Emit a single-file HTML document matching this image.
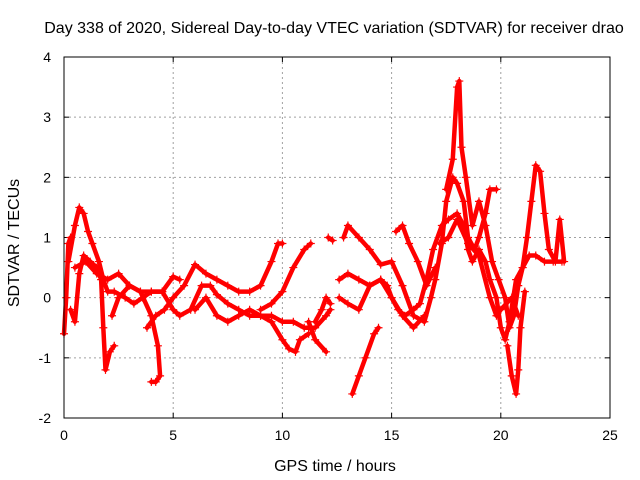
<!DOCTYPE html>
<html><head><meta charset="utf-8"><style>
body{margin:0;background:#fff;}
svg{display:block;font-family:"Liberation Sans",sans-serif;}
</style></head><body>
<svg id="chart" width="640" height="480">
<text x="334" y="33" font-size="16" text-anchor="middle">Day 338 of 2020, Sidereal Day-to-day VTEC variation (SDTVAR) for receiver drao</text>
<text x="335" y="471" font-size="16" text-anchor="middle">GPS time / hours</text>
<text x="0" y="0" font-size="16" text-anchor="middle" transform="translate(19,243) rotate(-90)">SDTVAR / TECUs</text>
<g id="grid"></g>
<g id="ticks"></g>
<g id="series"></g>
<rect x="64" y="57" width="546" height="361" fill="none" stroke="#000" stroke-width="1"/>
</svg>
<script>
const xTicks=[0,5,10,15,20,25];
const yTicks=[-2,-1,0,1,2,3,4];
const arc1=[[0,-0.6],[0.1,0],[0.2,0.9],[0.3,1.0]];
const arc2=[[0.2,0.6],[0.5,1.2],[0.7,1.5],[0.9,1.4],[1.1,1.1],[1.3,0.9],[1.6,0.6],[1.8,0.3],[2.0,0.1],[2.3,0.1],[2.8,0.0],[3.2,-0.1],[3.6,0.0],[4,0.1],[4.5,0.1],[5,0.35],[5.3,0.3]];
const arc3=[[0.3,-0.2],[0.5,-0.4],[0.7,0.4],[0.9,0.7],[1.2,0.6],[1.5,0.5],[1.7,0.3],[1.8,-0.5],[1.9,-1.2],[2.1,-0.9],[2.3,-0.8]];
const arc4=[[0.5,0.5],[1,0.6],[1.5,0.4],[2,0.3],[2.5,0.4],[3,0.2],[3.5,0.1],[4,-0.3],[4.3,-0.8],[4.4,-1.3],[4.2,-1.4],[4.0,-1.4]];
const arc5=[[2.2,-0.3],[2.5,0.0],[3,0.2],[3.5,0.1],[4,0.1],[4.5,0.1],[5,-0.2],[5.3,-0.3],[5.8,-0.2],[6.3,0.2],[6.7,0.2],[7,0.05],[7.5,-0.1],[8,-0.2],[8.5,-0.3],[9,-0.3],[9.5,-0.4],[10,-0.7],[10.3,-0.85],[10.6,-0.9],[10.8,-0.7],[11.2,-0.6]];
const arc6=[[3.8,-0.5],[4.2,-0.3],[4.6,-0.2],[5,0.0],[5.5,0.2],[6,0.55],[6.5,0.4],[7,0.3],[7.5,0.2],[8,0.1],[8.5,0.1],[9,0.2],[9.5,0.6],[9.8,0.9],[10,0.9]];
const arc7=[[6,-0.2],[6.5,0.0],[7,-0.3],[7.5,-0.4],[8,-0.3],[8.5,-0.2],[9,-0.3],[9.5,-0.3],[10,-0.4],[10.5,-0.4],[11,-0.5],[11.5,-0.5],[12,-0.3],[12.2,-0.2]];
const arc8=[[9,-0.2],[9.5,-0.1],[10,0.1],[10.5,0.5],[11,0.8],[11.3,0.9]];
const arc9=[[11.2,-0.4],[11.5,-0.7],[12,-0.9]];
const arc9b=[[11.5,-0.4],[11.8,-0.2],[12,0.0],[12.2,-0.1]];
const arc10=[[12.1,1.0],[12.3,0.95]];
const arc11=[[12.8,1.0],[13.0,1.2],[13.5,1.0],[14,0.8],[14.5,0.55],[15,0.6],[15.5,0.2],[16,-0.3],[16.5,-0.4],[16.8,0.0],[17,0.3],[17.3,0.9],[17.5,1.6],[17.8,2.0],[18,1.9],[18.3,1.6],[18.5,1.0],[18.8,0.8],[19,1.0],[19.3,1.4],[19.5,1.8],[19.8,1.8]];
const arc12=[[12.6,0.3],[13,0.4],[13.5,0.3],[14,0.2],[14.5,0.3],[14.8,0.2],[15,0.0],[15.3,-0.2],[15.6,-0.3],[16,-0.2],[16.3,-0.1],[16.6,0.3],[16.9,0.8],[17.3,1.2],[17.6,1.3],[18,1.4],[18.3,1.2],[18.5,0.8],[18.7,0.6],[19,0.8],[19.3,0.6],[19.5,0.3],[19.8,0.0],[20,-0.5],[20.2,-0.7],[20.4,-0.4],[20.7,0.3],[21,0.5],[21.3,0.7],[21.6,0.7],[22,0.6],[22.4,0.6],[22.8,0.6]];
const arc13=[[12.6,0.0],[13,-0.1],[13.5,-0.2],[14,0.2],[14.5,0.3],[15,0.0],[15.5,-0.3],[16,-0.5],[16.5,-0.3]];
const arc14=[[13.2,-1.6],[13.5,-1.3],[13.8,-1.0],[14.2,-0.6],[14.4,-0.5]];
const arc15=[[15.2,1.1],[15.5,1.2],[15.8,0.9],[16.2,0.6],[16.6,0.2],[17,0.5]];
const arc16=[[17.5,1.8],[17.8,2.3],[18,3.5],[18.1,3.6],[18.2,2.5],[18.4,2.0],[18.7,1.2],[19,1.6],[19.3,1.2],[19.6,0.6],[19.9,0.3],[20.2,0.0],[20.4,-0.5],[20.6,-0.3],[20.8,0.2],[21,0.5],[21.2,1.0],[21.4,1.6],[21.6,2.2],[21.8,2.1],[22,1.4],[22.2,0.8],[22.5,0.6],[22.7,1.3],[22.9,0.6]];
const arc17=[[20.3,-0.8],[20.5,-1.3],[20.7,-1.6],[20.8,-1.2],[20.9,-0.5],[21.1,0.1]];
const arc18=[[17.2,0.9],[17.6,1.0],[18,1.3],[18.5,0.9],[19,0.7],[19.5,0.0],[19.8,-0.3],[20,-0.2],[20.5,0.0],[20.8,-0.3]];
const arcs=[arc1,arc2,arc3,arc4,arc5,arc6,arc7,arc8,arc9,arc9b,arc10,arc11,arc12,arc13,arc14,arc15,arc16,arc17,arc18];

const NS="http://www.w3.org/2000/svg";
const L=64,R=610,T=57,B=418;
function xs(v){return L+(v-0)/(25-0)*(R-L);}
function ys(v){return B-(v+2)/(4+2)*(B-T);}
const grid=document.getElementById('grid'),ticks=document.getElementById('ticks'),ser=document.getElementById('series');
function mk(tag,attrs,parent){const e=document.createElementNS(NS,tag);for(const k in attrs)e.setAttribute(k,attrs[k]);parent.appendChild(e);return e;}
xTicks.forEach(t=>{
  const x=xs(t);
  if(t>0&&t<25){const g=mk('line',{x1:x,x2:x,y1:T,y2:B,stroke:'#a0a0a0','stroke-dasharray':'2,3'},grid);
  
  }
  const a=mk('line',{x1:x,x2:x,y1:B,y2:B-5,stroke:'#000'},ticks);
  
  
  const b=mk('line',{x1:x,x2:x,y1:T,y2:T+5,stroke:'#000'},ticks);
  
  
  const tx=mk('text',{x:x,y:B+22,'font-size':14,'text-anchor':'middle'},ticks);tx.textContent=t;
  
  
});
yTicks.forEach(t=>{
  const y=ys(t);
  if(t>-2&&t<4){const g=mk('line',{x1:L,x2:R,y1:y,y2:y,stroke:'#a0a0a0','stroke-dasharray':'2,3'},grid);
  
  }
  const a=mk('line',{x1:L,x2:L+5,y1:y,y2:y,stroke:'#000'},ticks);
  
  
  const b=mk('line',{x1:R,x2:R-5,y1:y,y2:y,stroke:'#000'},ticks);
  
  
  const tx=mk('text',{x:L-13,y:y+5,'font-size':14,'text-anchor':'end'},ticks);tx.textContent=t;
  
  
});
arcs.forEach(arc=>{
  const pts=arc.map(p=>xs(p[0])+','+ys(p[1])).join(' ');
  const pl=mk('polyline',{points:pts,fill:'none',stroke:'#ff0000','stroke-width':4.5,'stroke-linejoin':'round','stroke-linecap':'round'},ser);
  
  
  arc.forEach(p=>{
    const x=xs(p[0]),y=ys(p[1]);
    const m=mk('path',{d:`M${x-4},${y}h8M${x},${y-4}v8`,stroke:'#ff0000','stroke-width':1.2},ser);
    
    
  });
});
</script>
</body></html>
